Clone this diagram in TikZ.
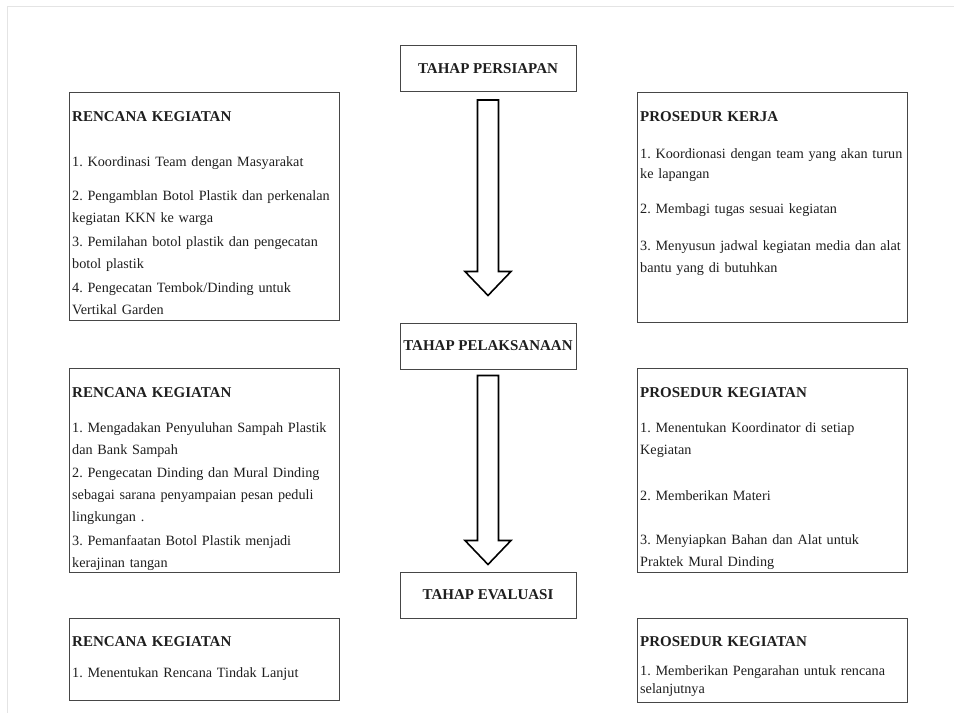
\documentclass[tikz,border=0pt]{standalone}
\usepackage{fontspec}
\setmainfont{Liberation Serif}
\usepackage{tikz}
\usetikzlibrary{calc, positioning}
\definecolor{boxgray}{RGB}{70,70,70}
\definecolor{framegray}{RGB}{228,228,228}
\definecolor{inkgray}{RGB}{30,30,30}
\frenchspacing
\newcommand{\headtxt}[1]{{\fontsize{15}{22}\selectfont\bfseries #1}}
% hollow block arrow from one stage down to the next
\newcommand{\stagearrow}[4]{%
  \draw[blockarrow] let \p1=($(#1.south)+(0,-#3)$), \p2=($(#2.north)+(0,#4)$) in
    (\x1-10.5pt,\y1) -- (\x1+10.5pt,\y1) -- (\x1+10.5pt,\y2+24pt) -- (\x1+23pt,\y2+24pt)
    -- (\x1,\y2) -- (\x1-23pt,\y2+24pt) -- (\x1-10.5pt,\y2+24pt) -- cycle;}

\begin{document}
\begin{tikzpicture}[x=1pt, y=1pt, text=inkgray]
\tikzstyle{stage} = [rectangle, draw=boxgray, line width=1pt, minimum width=176pt, minimum height=46pt, inner sep=0pt, font=\fontsize{15}{18}\selectfont\bfseries]
\tikzstyle{panel} = [rectangle, draw=boxgray, line width=1pt, anchor=north west, minimum width=270pt, inner sep=0pt]
\tikzstyle{paneltext} = [anchor=base west, inner sep=0pt, text width=300pt, align=left, font=\fontsize{14.2}{22}\selectfont\frenchspacing]
\tikzstyle{blockarrow} = [draw=black, line width=1.6pt, fill=white, line join=miter]

\useasboundingbox (0,0) rectangle (954,-713);
\draw[framegray, line width=1pt] (7,-713) -- (7,-6) -- (954,-6);

% stages in the middle
\node (persiapan) [stage] at (488,-68.5) {TAHAP PERSIAPAN};
\node (pelaksanaan) [stage] at (488,-346) {TAHAP PELAKSANAAN};
\node (evaluasi) [stage] at (488,-595) {TAHAP EVALUASI};

\stagearrow{persiapan}{pelaksanaan}{8}{27}
\stagearrow{pelaksanaan}{evaluasi}{6}{7}

% persiapan
\node (rencanaA) [panel, minimum height=228pt] at (69,-92) {};
\node (rencanaAtext) [paneltext] at ($(rencanaA.north west)+(3,-29)$) {%
  \headtxt{RENCANA KEGIATAN}\\[23pt]
  1. Koordinasi Team dengan Masyarakat\\[12pt]
  2. Pengamblan Botol Plastik dan perkenalan\\
  kegiatan KKN ke warga\\[2pt]
  3. Pemilahan botol plastik dan pengecatan\\
  botol plastik\\[2pt]
  4. Pengecatan Tembok/Dinding untuk\\
  Vertikal Garden};

\node (prosedurA) [panel, minimum height=230pt] at (637,-92) {};
\node (prosedurAtext) [paneltext] at ($(prosedurA.north west)+(3,-29)$) {%
  \headtxt{PROSEDUR KERJA}\\[15pt]
  1. Koordionasi dengan team yang akan turun\\[-2pt]
  ke lapangan\\[13pt]
  2. Membagi tugas sesuai kegiatan\\[15pt]
  3. Menyusun jadwal kegiatan media dan alat\\
  bantu yang di butuhkan};

% pelaksanaan
\node (rencanaB) [panel, minimum height=204pt] at (69,-368) {};
\node (rencanaBtext) [paneltext] at ($(rencanaB.north west)+(3,-29)$) {%
  \headtxt{RENCANA KEGIATAN}\\[13pt]
  1. Mengadakan Penyuluhan Sampah Plastik\\
  dan Bank Sampah\\[1pt]
  2. Pengecatan Dinding dan Mural Dinding\\
  sebagai sarana penyampaian pesan peduli\\
  lingkungan .\\[2pt]
  3. Pemanfaatan Botol Plastik menjadi\\
  kerajinan tangan};

\node (prosedurB) [panel, minimum height=204pt] at (637,-368) {};
\node (prosedurBtext) [paneltext] at ($(prosedurB.north west)+(3,-29)$) {%
  \headtxt{PROSEDUR KEGIATAN}\\[13pt]
  1. Menentukan Koordinator di setiap\\
  Kegiatan\\[24pt]
  2. Memberikan Materi\\[22pt]
  3. Menyiapkan Bahan dan Alat untuk\\
  Praktek Mural Dinding};

% evaluasi
\node (rencanaC) [panel, minimum height=82pt] at (69,-618) {};
\node (rencanaCtext) [paneltext] at ($(rencanaC.north west)+(3,-28)$) {%
  \headtxt{RENCANA KEGIATAN}\\[9pt]
  1. Menentukan Rencana Tindak Lanjut};

\node (prosedurC) [panel, minimum height=84pt] at (637,-618) {};
\node (prosedurCtext) [paneltext] at ($(prosedurC.north west)+(3,-28)$) {%
  \headtxt{PROSEDUR KEGIATAN}\\[7pt]
  1. Memberikan Pengarahan untuk rencana\\[-4pt]
  selanjutnya};
\end{tikzpicture}
\end{document}
